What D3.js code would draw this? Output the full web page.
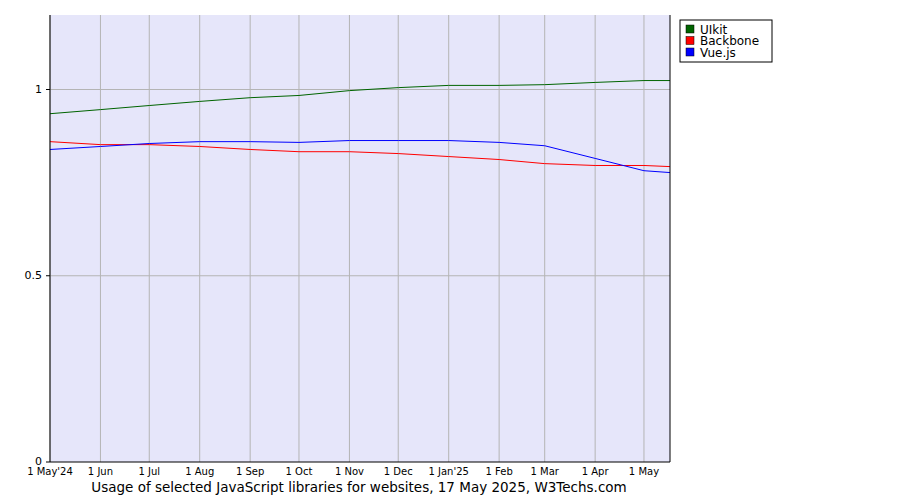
<!DOCTYPE html>
<html><head><meta charset="utf-8">
<script src="https://cdn.jsdelivr.net/npm/d3@7"></script>
<style>body{margin:0;background:#fff}text{font-family:"DejaVu Sans",sans-serif}</style>
</head><body><div id="plot"></div>
<script>
const dates = ["2024-05-01","2024-06-01","2024-07-01","2024-08-01","2024-09-01","2024-10-01","2024-11-01","2024-12-01","2025-01-01","2025-02-01","2025-03-01","2025-04-01","2025-05-01","2025-05-17"];
const uikit = [0.935,0.946,0.957,0.968,0.978,0.984,0.997,1.005,1.011,1.011,1.013,1.019,1.024,1.024];
const backbone = [0.860,0.852,0.852,0.847,0.839,0.833,0.833,0.828,0.820,0.812,0.801,0.796,0.796,0.793];
const vue = [0.839,0.847,0.855,0.860,0.860,0.858,0.863,0.863,0.863,0.858,0.849,0.815,0.782,0.777];
const tickLabels = ["1 May'24","1 Jun","1 Jul","1 Aug","1 Sep","1 Oct","1 Nov","1 Dec","1 Jan'25","1 Feb","1 Mar","1 Apr","1 May"];
const series = [
  {name:"UIkit", values:uikit, color:"#006400"},
  {name:"Backbone", values:backbone, color:"#ff0000"},
  {name:"Vue.js", values:vue, color:"#0000ff"}
];

const width = 900, height = 500;
const parse = d3.timeParse("%Y-%m-%d");
const xDates = dates.map(parse);
const x = d3.scaleTime().domain([xDates[0], xDates[xDates.length-1]]).range([50,670]);
const y = d3.scaleLinear().domain([0,1.2]).range([462,15]);

const svg = d3.select("#plot").append("svg").attr("width",width).attr("height",height);
svg.append("rect").attr("x",50).attr("y",15).attr("width",620).attr("height",447).attr("fill","#e6e6fa");

const tickDates = xDates.slice(0,13);
svg.append("g").selectAll("line").data(tickDates).join("line")
  .attr("x1",d=>x(d)).attr("x2",d=>x(d)).attr("y1",15).attr("y2",462).attr("stroke","#b4b4b4");
svg.append("g").selectAll("line").data([0.5,1]).join("line")
  .attr("x1",50).attr("x2",670).attr("y1",d=>y(d)).attr("y2",d=>y(d)).attr("stroke","#b4b4b4");

const line = d3.line().x((d,i)=>x(xDates[i])).y(d=>y(d));
svg.append("g").selectAll("path").data(series).join("path")
  .attr("d",d=>line(d.values)).attr("fill","none").attr("stroke",d=>d.color).attr("stroke-width",1);

svg.append("line").attr("x1",50).attr("x2",50).attr("y1",15).attr("y2",462).attr("stroke","#000");
svg.append("line").attr("x1",50).attr("x2",670).attr("y1",462).attr("y2",462).attr("stroke","#000");
svg.append("line").attr("x1",670).attr("x2",670).attr("y1",15).attr("y2",462).attr("stroke","#000");

svg.append("g").selectAll("text").data([0,0.5,1]).join("text")
  .attr("x",42).attr("y",d=>y(d)+3).attr("text-anchor","end").attr("font-size",11).text(d=>d);
svg.append("g").selectAll("line").data([0,0.5,1]).join("line")
  .attr("x1",46).attr("x2",50).attr("y1",d=>y(d)).attr("y2",d=>y(d)).attr("stroke","#000");
svg.append("g").selectAll("text").data(tickDates).join("text")
  .attr("x",d=>x(d)).attr("y",475).attr("text-anchor","middle").attr("font-size",10)
  .text((d,i)=>tickLabels[i]);

svg.append("text").attr("x",359).attr("y",492).attr("text-anchor","middle").attr("font-size",13.5)
  .text("Usage of selected JavaScript libraries for websites, 17 May 2025, W3Techs.com");

const lg = svg.append("g").attr("transform","translate(680,20)");
lg.append("rect").attr("width",92).attr("height",42).attr("fill","#fff").attr("stroke","#000");
const items = lg.selectAll("g").data(series).join("g").attr("transform",(d,i)=>`translate(6,${5+i*11.5})`);
items.append("rect").attr("width",8).attr("height",8).attr("fill",d=>d.color).attr("stroke","#000").attr("stroke-width",0.5);
items.append("text").attr("x",14).attr("y",8.5).attr("font-size",12).text(d=>d.name);
</script></body></html>
